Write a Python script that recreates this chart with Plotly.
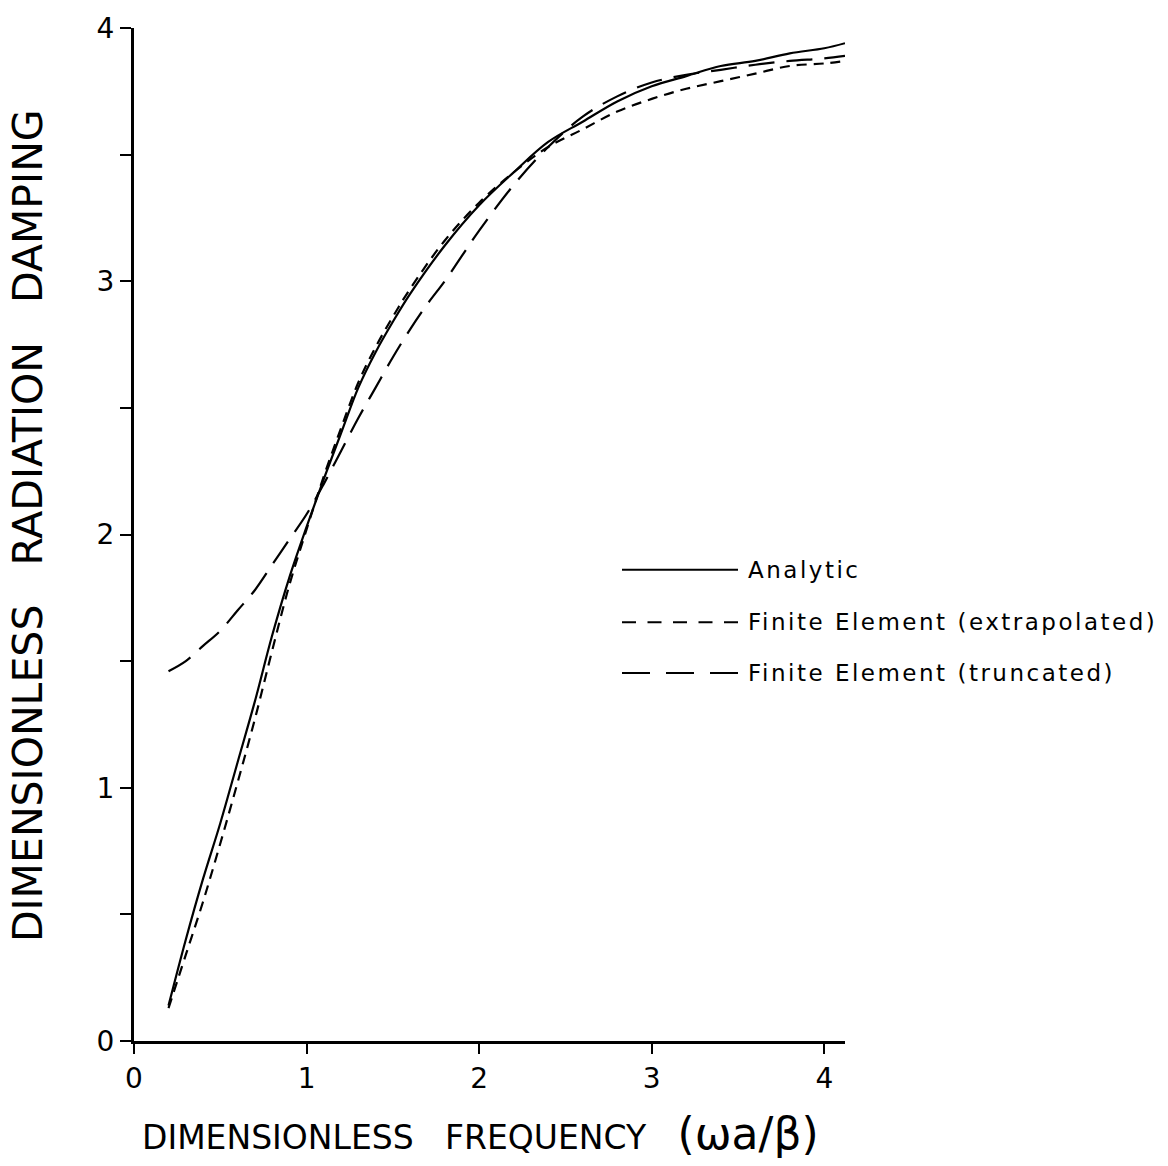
import plotly.graph_objects as go

# ---- data ----
freq_analytic = [0.2, 0.3, 0.4, 0.5, 0.6, 0.7, 0.8, 0.9, 1.0, 1.1, 1.2, 1.3, 1.4, 1.5, 1.6, 1.8,
                 2.0, 2.2, 2.4, 2.6, 2.8, 3.0, 3.2, 3.4, 3.6, 3.8, 4.0, 4.12]
damp_analytic = [0.14, 0.40, 0.64, 0.86, 1.10, 1.34, 1.60, 1.83, 2.03, 2.22, 2.40, 2.58, 2.72, 2.84, 2.95, 3.14,
                 3.30, 3.43, 3.55, 3.63, 3.71, 3.77, 3.81, 3.85, 3.87, 3.90, 3.92, 3.94]

freq_extrap = [0.2, 0.3, 0.4, 0.5, 0.6, 0.7, 0.8, 0.9, 1.0, 1.1, 1.2, 1.3, 1.4, 1.5, 1.6, 1.8,
               2.0, 2.2, 2.4, 2.6, 2.8, 3.0, 3.2, 3.4, 3.6, 3.8, 4.0, 4.12]
damp_extrap = [0.13, 0.34, 0.55, 0.78, 1.02, 1.27, 1.54, 1.80, 2.02, 2.23, 2.42, 2.60, 2.74, 2.86, 2.97, 3.16,
               3.31, 3.43, 3.53, 3.60, 3.67, 3.72, 3.76, 3.79, 3.82, 3.85, 3.86, 3.87]

freq_trunc = [0.2, 0.3, 0.4, 0.5, 0.6, 0.7, 0.8, 0.9, 1.0, 1.1, 1.2, 1.3, 1.4, 1.5, 1.6, 1.7, 1.8, 1.9,
              2.0, 2.2, 2.4, 2.6, 2.8, 3.0, 3.2, 3.4, 3.6, 3.8, 4.0, 4.12]
damp_trunc = [1.46, 1.50, 1.56, 1.62, 1.70, 1.78, 1.88, 1.98, 2.08, 2.20, 2.33, 2.46, 2.58, 2.70, 2.81, 2.91, 3.00, 3.10,
              3.20, 3.38, 3.53, 3.65, 3.73, 3.785, 3.815, 3.835, 3.855, 3.87, 3.88, 3.89]

x_ticks = [0, 1, 2, 3, 4]
y_ticks = [0, 0.5, 1, 1.5, 2, 2.5, 3, 3.5, 4]
y_ticktext = ["0", "", "1", "", "2", "", "3", "", "4"]

series_names = ["Analytic", "Finite Element (extrapolated)", "Finite Element (truncated)"]

FONT = "DejaVu Sans"
W, H = 1168, 1166
L, R, T, B = 134, 323, 20, 125


def px(x):
    return (x - L) / (W - L - R)


def py(y):
    return (H - B - y) / (H - T - B)


fig = go.Figure()
plot_dash = ["solid", "10px,7px", "26px,12px"]
legend_dash = ["solid", "14px,11.5px", "28px,16px"]
for (xs, ys), name, dash in zip([(freq_analytic, damp_analytic), (freq_extrap, damp_extrap),
                                 (freq_trunc, damp_trunc)], series_names, plot_dash):
    fig.add_trace(go.Scatter(x=xs, y=ys, mode="lines", name=name, showlegend=False,
                             line=dict(color="black", width=2.2, dash=dash, shape="spline")))

# legend drawn as line samples + text
leg_y = [566, 619, 670]
for name, dash, yy in zip(series_names, legend_dash, leg_y):
    fig.add_shape(type="line", xref="paper", yref="paper", x0=px(622), x1=px(738), y0=py(yy), y1=py(yy),
                  line=dict(color="black", width=2, dash=dash))
    fig.add_annotation(xref="paper", yref="paper", x=px(746), y=py(yy),
                       text="<span style='letter-spacing:2.5px'>" + name + "</span>", showarrow=False,
                       xanchor="left", yanchor="middle", font=dict(family=FONT, size=23, color="black"))

# axis titles
fig.add_annotation(xref="paper", yref="paper", x=px(28), y=py(522),
                   text="DIMENSIONLESS   RADIATION   DAMPING", textangle=-90, showarrow=False,
                   xanchor="center", yanchor="middle", font=dict(family=FONT, size=41, color="black"))
fig.add_annotation(xref="paper", yref="paper", x=px(140), y=py(1134),
                   text="DIMENSIONLESS   FREQUENCY   <span style='font-size:44px'>(ωa/β)</span>",
                   showarrow=False, xanchor="left", yanchor="middle",
                   font=dict(family=FONT, size=33, color="black"))

fig.update_layout(
    width=W, height=H,
    margin=dict(l=L, r=R, t=T, b=B),
    paper_bgcolor="white", plot_bgcolor="white",
    font=dict(family=FONT, size=28, color="black"),
    xaxis=dict(range=[0, 4.12], tickvals=x_ticks, ticktext=[str(v) for v in x_ticks],
               showgrid=False, zeroline=False, showline=True, linecolor="black", linewidth=3,
               ticks="outside", ticklen=10, tickwidth=2, tickcolor="black",
               tickfont=dict(family=FONT, size=28)),
    yaxis=dict(range=[0, 4], tickvals=y_ticks, ticktext=y_ticktext,
               showgrid=False, zeroline=False, showline=True, linecolor="black", linewidth=3,
               ticks="outside", ticklen=11, tickwidth=2, tickcolor="black",
               tickfont=dict(family=FONT, size=28)),
)

fig.write_html("out.html")
